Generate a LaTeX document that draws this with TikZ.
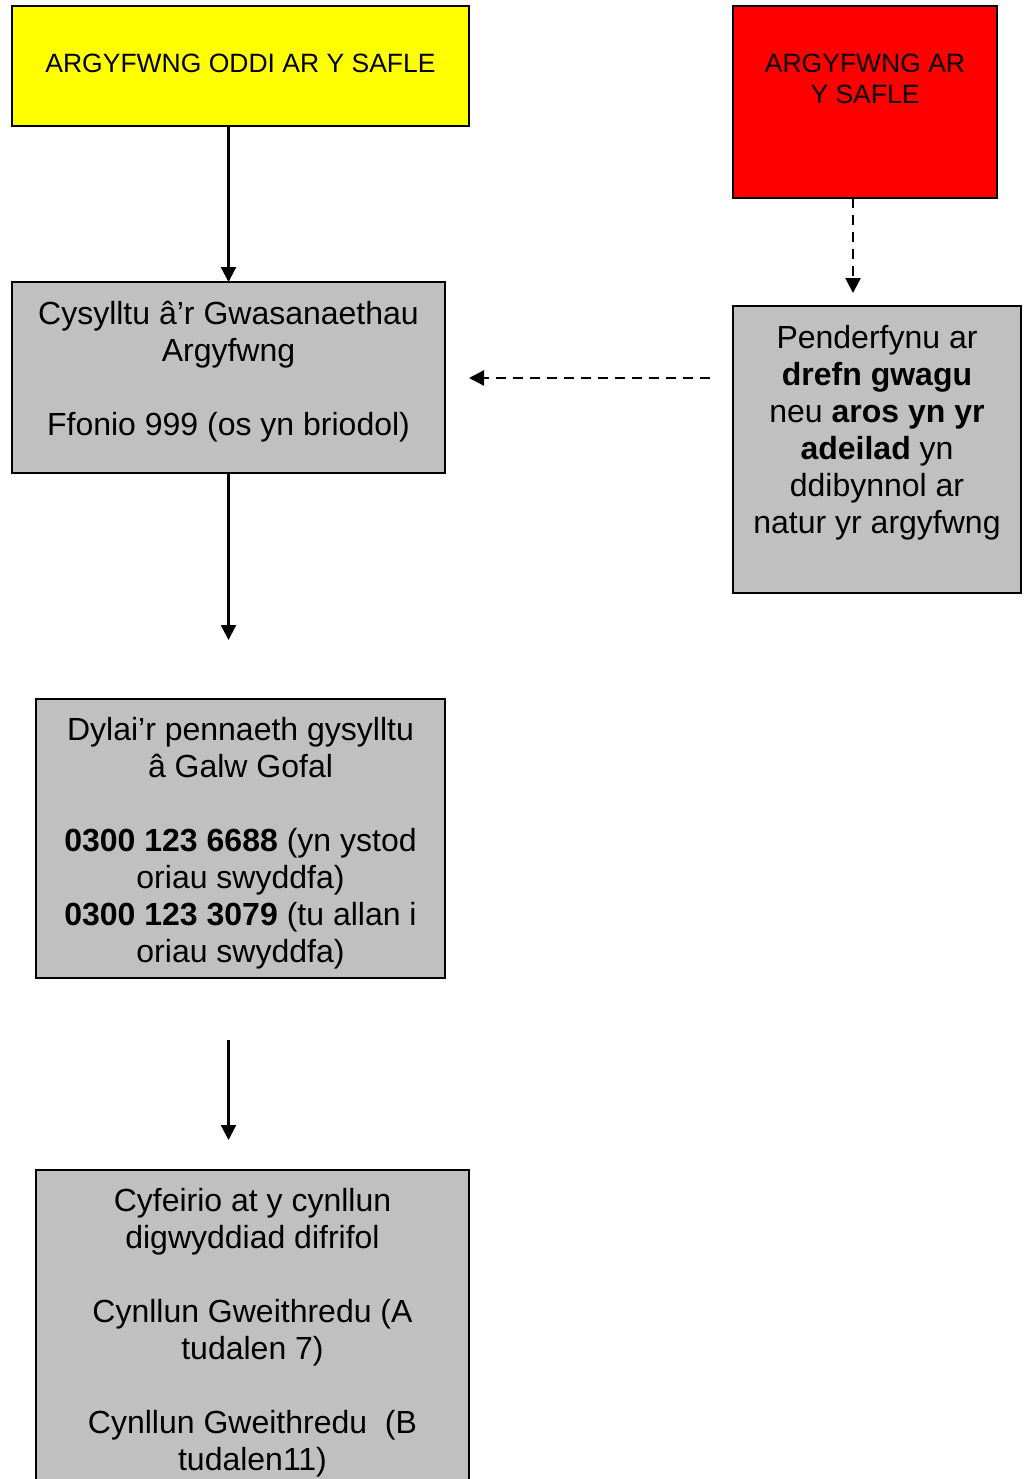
\documentclass[tikz,border=0pt]{standalone}
\usepackage{fontspec}
\setmainfont{Liberation Sans}
\usepackage{xcolor}
\usepackage{tikz}
\usetikzlibrary{positioning}
\usetikzlibrary{arrows.meta}

\definecolor{boxgrey}{RGB}{192,192,192}
\definecolor{boxyellow}{RGB}{255,255,0}
\definecolor{boxred}{RGB}{255,0,0}

\begin{document}
\begin{tikzpicture}[x=1pt,y=1pt,yscale=-1,xscale=1,
  panel/.style={draw=black, line width=1.5pt, inner sep=0pt, outer sep=0pt},
  bigtext/.style={inner sep=0pt, align=center, font={\fontsize{32}{37}\selectfont}},
  captext/.style={inner sep=0pt, align=center, font={\fontsize{26.5}{31}\selectfont}},
  arr/.style={line width=2.3pt, -{Triangle[length=15pt,width=15pt]}},
  dasharr/.style={arr, dash pattern=on 10pt off 7pt}]
  \useasboundingbox (0,0) rectangle (1027,1479); %page = reference size

  % Boxes
  \node [panel, fill=boxyellow, minimum width=457pt, minimum height=120pt] (offsite) at (240.5,66) {};
  \node [panel, fill=boxred, minimum width=264pt, minimum height=192pt] (onsite) at (865,102) {};
  \node [panel, fill=boxgrey, minimum width=433pt, minimum height=191pt] (cysylltu) at (228.5,377.5) {};
  \node [panel, fill=boxgrey, minimum width=288pt, minimum height=287pt] (penderfynu) at (877,449.5) {};
  \node [panel, fill=boxgrey, minimum width=409pt, minimum height=279pt] (galwgofal) at (240.5,838.5) {};
  \node [panel, fill=boxgrey, minimum width=433pt, minimum height=340pt] (cynllun) at (252.5,1340) {};

  % Text Node
  \node [captext, below=48pt of offsite.north] (offsitetxt) {ARGYFWNG ODDI AR Y SAFLE};
  % Text Node
  \node [captext, below=48pt of onsite.north] (onsitetxt) {ARGYFWNG AR\\Y SAFLE};
  % Text Node
  \node [bigtext, below=19pt of cysylltu.north] (cysylltutxt) {Cysylltu â’r Gwasanaethau\\Argyfwng\\[37pt]Ffonio 999 (os yn briodol)};
  % Text Node
  \node [bigtext, below=19pt of penderfynu.north] (penderfynutxt) {Penderfynu ar\\\textbf{drefn gwagu}\\neu \textbf{aros yn yr}\\\textbf{adeilad} yn\\ddibynnol ar\\natur yr argyfwng};
  % Text Node
  \node [bigtext, below=18.5pt of galwgofal.north] (galwgofaltxt) {Dylai’r pennaeth gysylltu\\â Galw Gofal\\[37pt]\textbf{0300 123 6688} (yn ystod\\oriau swyddfa)\\\textbf{0300 123 3079} (tu allan i\\oriau swyddfa)};
  % Text Node
  \node [bigtext, below=18.5pt of cynllun.north] (cynlluntxt) {Cyfeirio at y cynllun\\digwyddiad difrifol\\[37pt]Cynllun Gweithredu (A\\tudalen 7)\\[37pt]Cynllun Gweithredu\ \ (B\\tudalen11)};

  % free arrow ends
  \coordinate (redtip) at (853,293);
  \coordinate (leftstart) at (710,378);
  \coordinate (lefttip) at (469,378);
  \coordinate (downtip) at (228.5,640);
  \coordinate (gapstart) at (228.5,1040);
  \coordinate (gaptip) at (228.5,1140);

  %Straight Lines
  \draw [arr] (offsite.south -| cysylltu.north) -- (cysylltu.north);
  \draw [dasharr] (onsite.south -| redtip) -- (redtip);
  \draw [dasharr] (leftstart) -- (lefttip);
  \draw [arr] (cysylltu.south) -- (downtip);
  \draw [arr] (gapstart) -- (gaptip);
\end{tikzpicture}
\end{document}
